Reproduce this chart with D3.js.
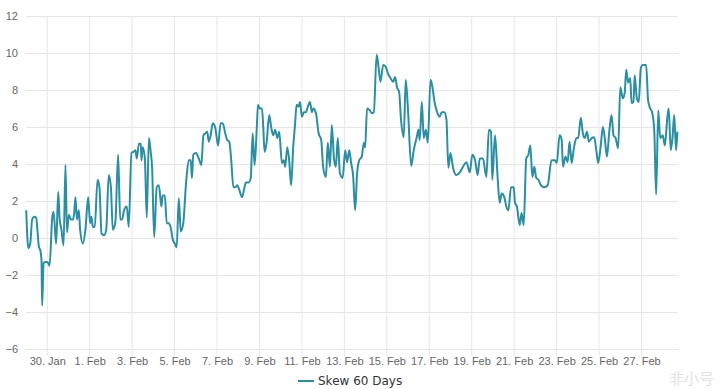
<!DOCTYPE html>
<html>
<head>
<meta charset="utf-8">
<script src="https://cdn.jsdelivr.net/npm/d3@7"></script>
<style>
  html, body { margin: 0; padding: 0; background: #fff; }
  svg { display: block; font-family: "Lucida Grande", "DejaVu Sans", Arial, sans-serif; }
</style>
</head>
<body>
<svg id="chart" width="719" height="389"></svg>
<script>
// days since 29 Jan 00:00 (UTC) for each reading
const dayOffsets = [
  0.01, 0.11, 0.20, 0.29, 0.39, 0.48, 0.54, 0.61, 0.67, 0.73, 0.76, 0.83, 0.92, 1.01, 1.11, 1.24, 1.30, 1.42, 1.52, 1.58,
  1.67, 1.77, 1.86, 1.93, 2.02, 2.12, 2.21, 2.27, 2.33, 2.40, 2.49, 2.55, 2.68, 2.80, 2.93, 3.02, 3.08, 3.15, 3.24, 3.37,
  3.46, 3.56, 3.68, 3.78, 3.90, 4.00, 4.09, 4.21, 4.34, 4.44, 4.53, 4.62, 4.75, 4.84, 4.97, 5.06, 5.16, 5.22, 5.32, 5.41,
  5.44, 5.50, 5.60, 5.69, 5.79, 5.88, 5.94, 6.04, 6.16, 6.26, 6.38, 6.44, 6.54, 6.63, 6.73, 6.82, 6.92, 7.01, 7.10, 7.20,
  7.29, 7.41, 7.54, 7.67, 7.76, 7.82, 7.88, 8.01, 8.14, 8.26, 8.36, 8.45, 8.54, 8.61, 8.70, 8.80, 8.92, 9.05, 9.17, 9.27,
  9.39, 9.48, 9.58, 9.67, 9.77, 9.86, 9.96, 10.05, 10.18, 10.27, 10.36, 10.49, 10.59, 10.68, 10.77, 10.87, 10.93, 11.02, 11.12, 11.18,
  11.24, 11.34, 11.46, 11.55, 11.65, 11.74, 11.84, 11.93, 12.06, 12.15, 12.21, 12.31, 12.40, 12.49, 12.59, 12.68, 12.75, 12.84, 12.91, 13.00,
  13.09, 13.19, 13.28, 13.38, 13.47, 13.53, 13.66, 13.79, 13.91, 14.00, 14.13, 14.22, 14.32, 14.41, 14.51, 14.60, 14.69, 14.79, 14.92, 15.04,
  15.13, 15.23, 15.32, 15.41, 15.51, 15.60, 15.70, 15.82, 15.92, 15.98, 16.07, 16.20, 16.29, 16.39, 16.52, 16.61, 16.70, 16.83, 16.95, 17.05,
  17.17, 17.30, 17.39, 17.48, 17.58, 17.67, 17.80, 17.89, 17.99, 18.15, 18.27, 18.41, 18.49, 18.55, 18.65, 18.74, 18.84, 18.93, 19.06, 19.15,
  19.25, 19.37, 19.49, 19.59, 19.71, 19.81, 19.90, 20.00, 20.12, 20.28, 20.44, 20.59, 20.75, 20.91, 21.03, 21.16, 21.28, 21.38, 21.53, 21.69,
  21.81, 21.91, 21.97, 22.10, 22.22, 22.32, 22.41, 22.54, 22.63, 22.73, 22.85, 22.98, 23.04, 23.13, 23.26, 23.35, 23.45, 23.57, 23.67, 23.76,
  23.86, 23.95, 24.04, 24.14, 24.26, 24.42, 24.58, 24.76, 24.92, 25.01, 25.14, 25.24, 25.30, 25.42, 25.52, 25.61, 25.71, 25.80, 25.93, 26.02,
  26.14, 26.24, 26.33, 26.43, 26.52, 26.65, 26.77, 26.87, 26.96, 27.08, 27.18, 27.27, 27.37, 27.49, 27.59, 27.68, 27.78, 27.90, 28.00, 28.12,
  28.21, 28.28, 28.37, 28.47, 28.53, 28.62, 28.68, 28.78, 28.87, 28.97, 29.06, 29.22, 29.31, 29.41, 29.50, 29.60, 29.69, 29.79, 29.88, 30.00,
  30.10, 30.22, 30.28, 30.38, 30.47, 30.54, 30.63, 30.69
];

const skew60 = [
  1.5, -0.55, -0.3, 1.0, 1.15, 1.1, 0.4, -0.5, -0.65, -1.2, -3.65, -1.35, -1.3, -1.3, -1.5, 1.15, 1.4, -0.3, 2.5, 1.1,
  0.45, -0.4, 3.95, 0.3, 1.25, 1.0, 1.0, 1.35, 2.2, 1.0, 1.5, 0.45, -0.3, 0.45, 2.2, 0.8, 1.15, 0.6, 0.6, 3.15,
  2.75, 0.25, 0.15, 0.45, 3.4, 2.75, 0.45, 0.85, 4.5, 1.0, 1.0, 1.5, 1.7, 0.6, 4.6, 4.65, 4.75, 4.3, 5.1, 5.1,
  4.2, 4.9, 4.3, 1.1, 5.4, 4.6, 3.85, 0.05, 2.75, 2.85, 1.7, 2.3, 2.3, 0.8, 0.8, 0.55, -0.1, -0.3, -0.5, 2.15,
  0.35, 0.8, 2.95, 4.2, 4.2, 3.25, 4.5, 4.6, 4.3, 3.95, 5.55, 5.65, 5.75, 5.2, 5.55, 6.2, 5.95, 5.0, 6.2, 6.2,
  5.65, 5.3, 5.2, 4.2, 2.75, 2.75, 2.85, 2.6, 2.2, 2.6, 3.0, 3.0, 3.25, 5.65, 3.95, 5.85, 7.2, 7.0, 7.0, 5.95,
  4.65, 5.2, 6.65, 6.0, 5.55, 5.85, 5.4, 5.75, 4.05, 4.2, 3.85, 4.9, 4.2, 2.85, 4.9, 6.2, 7.2, 7.1, 7.35, 6.55,
  6.8, 6.8, 7.1, 7.35, 6.8, 7.0, 6.75, 5.65, 5.3, 3.85, 3.3, 5.15, 3.85, 6.1, 4.3, 3.85, 5.4, 3.5, 3.25, 4.75,
  4.1, 4.75, 4.05, 3.4, 1.5, 3.5, 4.2, 4.4, 5.15, 4.9, 7.0, 6.9, 6.75, 6.8, 9.9, 9.25, 8.45, 9.35, 9.25, 8.9,
  8.65, 8.45, 8.7, 8.15, 7.9, 6.4, 5.45, 8.55, 7.1, 3.9, 4.75, 5.45, 5.85, 5.3, 7.35, 5.4, 5.85, 5.15, 8.55, 8.15,
  7.35, 6.8, 6.55, 6.8, 6.8, 6.4, 3.8, 4.6, 3.8, 3.4, 3.55, 3.85, 4.1, 3.55, 4.5, 4.2, 3.4, 4.3, 4.3, 3.3,
  5.85, 5.75, 3.15, 5.55, 3.3, 1.9, 2.4, 2.2, 1.7, 1.5, 2.75, 2.75, 1.9, 1.7, 0.7, 1.35, 0.7, 4.3, 4.5, 5.0,
  3.3, 3.85, 3.25, 3.15, 2.85, 2.75, 2.85, 4.2, 4.2, 4.05, 5.55, 5.3, 3.85, 4.4, 4.1, 5.2, 4.05, 4.75, 5.4, 5.4,
  6.5, 5.65, 5.4, 5.75, 5.2, 5.4, 5.45, 4.75, 4.05, 5.0, 6.0, 5.4, 4.4, 5.85, 6.65, 5.55, 5.4, 4.85, 8.15, 7.55,
  7.85, 9.1, 8.4, 8.65, 7.3, 7.35, 8.8, 7.55, 7.35, 9.2, 9.35, 9.35, 7.45, 7.0, 6.8, 5.85, 2.35, 6.9, 5.4, 5.55,
  5.0, 6.55, 7.0, 4.75, 5.55, 6.65, 4.75, 5.75
];

const yTicks = [-6, -4, -2, 0, 2, 4, 6, 8, 10, 12];
const seriesName = 'Skew 60 Days';

const start = Date.UTC(2021, 0, 29);
const dayMs = 864e5;
const data = dayOffsets.map((d, i) => ({ t: new Date(start + d * dayMs), v: skew60[i] }));

const svg = d3.select('#chart');
const margin = { top: 16, right: 41, bottom: 40, left: 26 };
const width = 719, height = 389;

const x = d3.scaleUtc()
  .domain([new Date(start), new Date(start + 30.72 * dayMs)])
  .range([margin.left, width - margin.right]);

const y = d3.scaleLinear()
  .domain([-6, 12])
  .range([height - margin.bottom, margin.top]);

// every second day, starting at 30 Jan
const xTicks = d3.utcDay.range(new Date(Date.UTC(2021, 0, 30)), x.domain()[1], 2);
const fmt = (d) => d.getUTCDate() + '. ' + d3.utcFormat('%b')(d);

// horizontal grid + y labels
const yAxis = (g) => g
  .attr('transform', `translate(${margin.left},0)`)
  .call(d3.axisLeft(y).tickValues(yTicks).tickSize(-(width - margin.right - margin.left)).tickPadding(8))
  .call((g) => g.select('.domain').remove())
  .call((g) => g.selectAll('.tick line').attr('stroke', '#e6e6e6'))
  .call((g) => g.selectAll('.tick text').attr('fill', '#666').attr('font-size', 11));

// x labels
const xAxis = (g) => g
  .attr('transform', `translate(0,${y(-6)})`)
  .call(d3.axisBottom(x).tickValues(xTicks).tickFormat(fmt).tickSize(0).tickPadding(8))
  .call((g) => g.select('.domain').remove())
  .call((g) => g.selectAll('.tick text').attr('fill', '#666').attr('font-size', 11));

// vertical grid
svg.append('g')
  .selectAll('line')
  .data(xTicks)
  .join('line')
  .attr('x1', (d) => x(d)).attr('x2', (d) => x(d))
  .attr('y1', margin.top).attr('y2', y(-6) + 7)
  .attr('stroke', '#e6e6e6');

svg.append('g').attr('class', 'y-axis').call(yAxis);
svg.append('g').attr('class', 'x-axis').call(xAxis);

const line = d3.line()
  .x((d) => x(d.t))
  .y((d) => y(d.v))
  .curve(d3.curveMonotoneX);

svg.append('path')
  .datum(data)
  .attr('fill', 'none')
  .attr('stroke', '#2b8fa3')
  .attr('stroke-width', 2)
  .attr('stroke-linejoin', 'round')
  .attr('d', line);

// legend
const legend = svg.append('g').attr('transform', 'translate(298,381)');
legend.append('line')
  .attr('x1', 0).attr('x2', 16).attr('y1', 0).attr('y2', 0)
  .attr('stroke', '#2b8fa3').attr('stroke-width', 2);
legend.append('text')
  .attr('x', 20).attr('y', 4)
  .attr('font-size', 12).attr('fill', '#333')
  .text(seriesName);

// watermark
svg.append('text')
  .attr('x', 714).attr('y', 384)
  .attr('text-anchor', 'end')
  .attr('font-family', '"Noto Sans CJK SC", sans-serif')
  .attr('font-size', 15).attr('fill', '#e2e2e2')
  .text('非小号');
</script>
</body>
</html>
